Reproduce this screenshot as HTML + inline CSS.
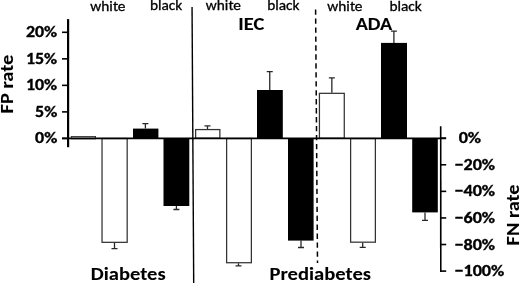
<!DOCTYPE html>
<html><head><meta charset="utf-8"><style>
html,body{margin:0;padding:0;background:#fff;width:520px;height:283px;overflow:hidden}
svg{display:block;filter:blur(0.35px)}
</style></head><body>
<svg width="520" height="283" viewBox="0 0 520 283">
<rect width="520" height="283" fill="#fff"/>
<rect x="71.25" y="136.45" width="24.30" height="2.40" fill="#ccc" stroke="#333" stroke-width="0.9"/>
<path d="M145.40 128.60V123.60M142.40 123.60H148.40" stroke="#282828" stroke-width="1.3" fill="none"/>
<rect x="133.00" y="128.60" width="25.40" height="9.80" fill="#000"/>
<path d="M207.50 128.95V125.80M204.50 125.80H210.50" stroke="#282828" stroke-width="1.3" fill="none"/>
<rect x="195.62" y="129.57" width="24.25" height="8.70" fill="#fff" stroke="#333" stroke-width="1.25"/>
<path d="M269.75 90.00V71.70M266.75 71.70H272.75" stroke="#282828" stroke-width="1.3" fill="none"/>
<rect x="257.00" y="90.00" width="25.80" height="48.40" fill="#000"/>
<path d="M331.85 92.70V77.90M328.85 77.90H334.85" stroke="#282828" stroke-width="1.3" fill="none"/>
<rect x="319.43" y="93.33" width="24.85" height="44.95" fill="#fff" stroke="#333" stroke-width="1.25"/>
<path d="M393.90 42.90V31.20M390.90 31.20H396.90" stroke="#282828" stroke-width="1.3" fill="none"/>
<rect x="381.00" y="42.90" width="26.00" height="95.50" fill="#000"/>
<path d="M114.50 242.95V248.60M111.50 248.60H117.50" stroke="#282828" stroke-width="1.3" fill="none"/>
<rect x="102.03" y="138.53" width="25.15" height="103.80" fill="#fff" stroke="#333" stroke-width="1.25"/>
<path d="M176.40 206.00V209.50M173.40 209.50H179.40" stroke="#282828" stroke-width="1.3" fill="none"/>
<rect x="163.50" y="138.40" width="25.80" height="67.60" fill="#000"/>
<path d="M238.50 263.35V265.80M235.50 265.80H241.50" stroke="#282828" stroke-width="1.3" fill="none"/>
<rect x="226.62" y="138.53" width="24.75" height="124.20" fill="#fff" stroke="#333" stroke-width="1.25"/>
<path d="M301.00 240.60V247.50M298.00 247.50H304.00" stroke="#282828" stroke-width="1.3" fill="none"/>
<rect x="288.00" y="138.40" width="25.60" height="102.20" fill="#000"/>
<path d="M362.70 242.80V247.40M359.70 247.40H365.70" stroke="#282828" stroke-width="1.3" fill="none"/>
<rect x="350.62" y="138.53" width="24.75" height="103.65" fill="#fff" stroke="#333" stroke-width="1.25"/>
<path d="M425.00 212.40V220.45M422.00 220.45H428.00" stroke="#282828" stroke-width="1.3" fill="none"/>
<rect x="412.20" y="138.40" width="25.60" height="74.00" fill="#000"/>
<line x1="62" y1="138.4" x2="446" y2="138.4" stroke="#000" stroke-width="1.8"/>
<line x1="68.1" y1="19.1" x2="68.1" y2="147.2" stroke="#000" stroke-width="2.2"/>
<line x1="62" y1="32.3" x2="68" y2="32.3" stroke="#000" stroke-width="1.6"/>
<line x1="62" y1="58.83" x2="68" y2="58.83" stroke="#000" stroke-width="1.6"/>
<line x1="62" y1="85.36" x2="68" y2="85.36" stroke="#000" stroke-width="1.6"/>
<line x1="62" y1="111.89" x2="68" y2="111.89" stroke="#000" stroke-width="1.6"/>
<line x1="62" y1="138.42000000000002" x2="68" y2="138.42000000000002" stroke="#000" stroke-width="1.6"/>
<line x1="440.7" y1="126.3" x2="440.8" y2="271.9" stroke="#000" stroke-width="1.6"/>
<line x1="440.1" y1="138.2" x2="446.2" y2="138.2" stroke="#000" stroke-width="1.6"/>
<line x1="440.1" y1="164.77999999999997" x2="446.2" y2="164.77999999999997" stroke="#000" stroke-width="1.6"/>
<line x1="440.1" y1="191.35999999999999" x2="446.2" y2="191.35999999999999" stroke="#000" stroke-width="1.6"/>
<line x1="440.1" y1="217.94" x2="446.2" y2="217.94" stroke="#000" stroke-width="1.6"/>
<line x1="440.1" y1="244.51999999999998" x2="446.2" y2="244.51999999999998" stroke="#000" stroke-width="1.6"/>
<line x1="440.1" y1="271.09999999999997" x2="446.2" y2="271.09999999999997" stroke="#000" stroke-width="1.6"/>
<line x1="192.05" y1="6.9" x2="193.7" y2="283" stroke="#000" stroke-width="1.4"/>
<line x1="315.6" y1="9.5" x2="317.5" y2="263" stroke="#000" stroke-width="1.5" stroke-dasharray="5.35 3.612"/>
<text transform="translate(25.90 37.30)" textLength="31.29" lengthAdjust="spacingAndGlyphs" text-anchor="start" stroke="#000" stroke-width="0.35" style="font-family:Carlito,'Liberation Sans',sans-serif;font-size:16.90px;font-weight:700;font-size-adjust:0.4849">20%</text>
<text transform="translate(25.90 63.83)" textLength="31.29" lengthAdjust="spacingAndGlyphs" text-anchor="start" stroke="#000" stroke-width="0.35" style="font-family:Carlito,'Liberation Sans',sans-serif;font-size:16.90px;font-weight:700;font-size-adjust:0.4849">15%</text>
<text transform="translate(25.90 90.36)" textLength="31.29" lengthAdjust="spacingAndGlyphs" text-anchor="start" stroke="#000" stroke-width="0.35" style="font-family:Carlito,'Liberation Sans',sans-serif;font-size:16.90px;font-weight:700;font-size-adjust:0.4849">10%</text>
<text transform="translate(35.06 116.89)" textLength="22.19" lengthAdjust="spacingAndGlyphs" text-anchor="start" stroke="#000" stroke-width="0.35" style="font-family:Carlito,'Liberation Sans',sans-serif;font-size:16.90px;font-weight:700;font-size-adjust:0.4849">5%</text>
<text transform="translate(35.06 143.42)" textLength="22.19" lengthAdjust="spacingAndGlyphs" text-anchor="start" stroke="#000" stroke-width="0.35" style="font-family:Carlito,'Liberation Sans',sans-serif;font-size:16.90px;font-weight:700;font-size-adjust:0.4849">0%</text>
<text transform="translate(458.64 143.20)" textLength="22.44" lengthAdjust="spacingAndGlyphs" text-anchor="start" stroke="#000" stroke-width="0.35" style="font-family:Carlito,'Liberation Sans',sans-serif;font-size:16.90px;font-weight:700;font-size-adjust:0.4849">0%</text>
<text transform="translate(454.40 169.78)" textLength="40.70" lengthAdjust="spacingAndGlyphs" text-anchor="start" stroke="#000" stroke-width="0.35" style="font-family:Carlito,'Liberation Sans',sans-serif;font-size:16.90px;font-weight:700;font-size-adjust:0.4849">−20%</text>
<text transform="translate(454.40 196.36)" textLength="40.70" lengthAdjust="spacingAndGlyphs" text-anchor="start" stroke="#000" stroke-width="0.35" style="font-family:Carlito,'Liberation Sans',sans-serif;font-size:16.90px;font-weight:700;font-size-adjust:0.4849">−40%</text>
<text transform="translate(454.40 222.94)" textLength="40.70" lengthAdjust="spacingAndGlyphs" text-anchor="start" stroke="#000" stroke-width="0.35" style="font-family:Carlito,'Liberation Sans',sans-serif;font-size:16.90px;font-weight:700;font-size-adjust:0.4849">−60%</text>
<text transform="translate(454.40 249.52)" textLength="40.70" lengthAdjust="spacingAndGlyphs" text-anchor="start" stroke="#000" stroke-width="0.35" style="font-family:Carlito,'Liberation Sans',sans-serif;font-size:16.90px;font-weight:700;font-size-adjust:0.4849">−80%</text>
<text transform="translate(454.40 276.10)" textLength="49.90" lengthAdjust="spacingAndGlyphs" text-anchor="start" stroke="#000" stroke-width="0.35" style="font-family:Carlito,'Liberation Sans',sans-serif;font-size:16.90px;font-weight:700;font-size-adjust:0.4849">−100%</text>
<text transform="translate(90.35 10.50)" textLength="35.16" lengthAdjust="spacingAndGlyphs" text-anchor="start" stroke="#000" stroke-width="0.3" style="font-family:Carlito,'Liberation Sans',sans-serif;font-size:14.40px;font-weight:400;font-size-adjust:0.4775">white</text>
<text transform="translate(149.93 10.30)" textLength="32.40" lengthAdjust="spacingAndGlyphs" text-anchor="start" stroke="#000" stroke-width="0.3" style="font-family:Carlito,'Liberation Sans',sans-serif;font-size:14.40px;font-weight:400;font-size-adjust:0.4775">black</text>
<text transform="translate(205.85 10.30)" textLength="35.16" lengthAdjust="spacingAndGlyphs" text-anchor="start" stroke="#000" stroke-width="0.3" style="font-family:Carlito,'Liberation Sans',sans-serif;font-size:14.40px;font-weight:400;font-size-adjust:0.4775">white</text>
<text transform="translate(267.13 10.20)" textLength="32.40" lengthAdjust="spacingAndGlyphs" text-anchor="start" stroke="#000" stroke-width="0.3" style="font-family:Carlito,'Liberation Sans',sans-serif;font-size:14.40px;font-weight:400;font-size-adjust:0.4775">black</text>
<text transform="translate(327.35 11.20)" textLength="35.16" lengthAdjust="spacingAndGlyphs" text-anchor="start" stroke="#000" stroke-width="0.3" style="font-family:Carlito,'Liberation Sans',sans-serif;font-size:14.40px;font-weight:400;font-size-adjust:0.4775">white</text>
<text transform="translate(389.43 11.00)" textLength="32.40" lengthAdjust="spacingAndGlyphs" text-anchor="start" stroke="#000" stroke-width="0.3" style="font-family:Carlito,'Liberation Sans',sans-serif;font-size:14.40px;font-weight:400;font-size-adjust:0.4775">black</text>
<text transform="translate(238.26 30.16)" textLength="26.01" lengthAdjust="spacingAndGlyphs" text-anchor="start" stroke="#000" stroke-width="0.08" style="font-family:Carlito,'Liberation Sans',sans-serif;font-size:18.57px;font-weight:700;font-size-adjust:0.4849">IEC</text>
<text transform="translate(355.70 29.50)" textLength="36.52" lengthAdjust="spacingAndGlyphs" text-anchor="start" stroke="#000" stroke-width="0.08" style="font-family:Carlito,'Liberation Sans',sans-serif;font-size:18.90px;font-weight:700;font-size-adjust:0.4849">ADA</text>
<text transform="translate(90.87 279.61)" textLength="74.73" lengthAdjust="spacingAndGlyphs" text-anchor="start" stroke="#000" stroke-width="0.08" style="font-family:Carlito,'Liberation Sans',sans-serif;font-size:18.74px;font-weight:700;font-size-adjust:0.4849">Diabetes</text>
<text transform="translate(269.57 279.61)" textLength="101.43" lengthAdjust="spacingAndGlyphs" text-anchor="start" stroke="#000" stroke-width="0.08" style="font-family:Carlito,'Liberation Sans',sans-serif;font-size:18.74px;font-weight:700;font-size-adjust:0.4849">Prediabetes</text>
<text transform="translate(13.01 113.42) rotate(-90)" textLength="58.67" lengthAdjust="spacingAndGlyphs" text-anchor="start" stroke="#000" stroke-width="0.08" style="font-family:Carlito,'Liberation Sans',sans-serif;font-size:18.78px;font-weight:700;font-size-adjust:0.4849">FP rate</text>
<text transform="translate(519.01 245.42) rotate(-90)" textLength="61.03" lengthAdjust="spacingAndGlyphs" text-anchor="start" stroke="#000" stroke-width="0.08" style="font-family:Carlito,'Liberation Sans',sans-serif;font-size:18.78px;font-weight:700;font-size-adjust:0.4849">FN rate</text>
</svg>
</body></html>
